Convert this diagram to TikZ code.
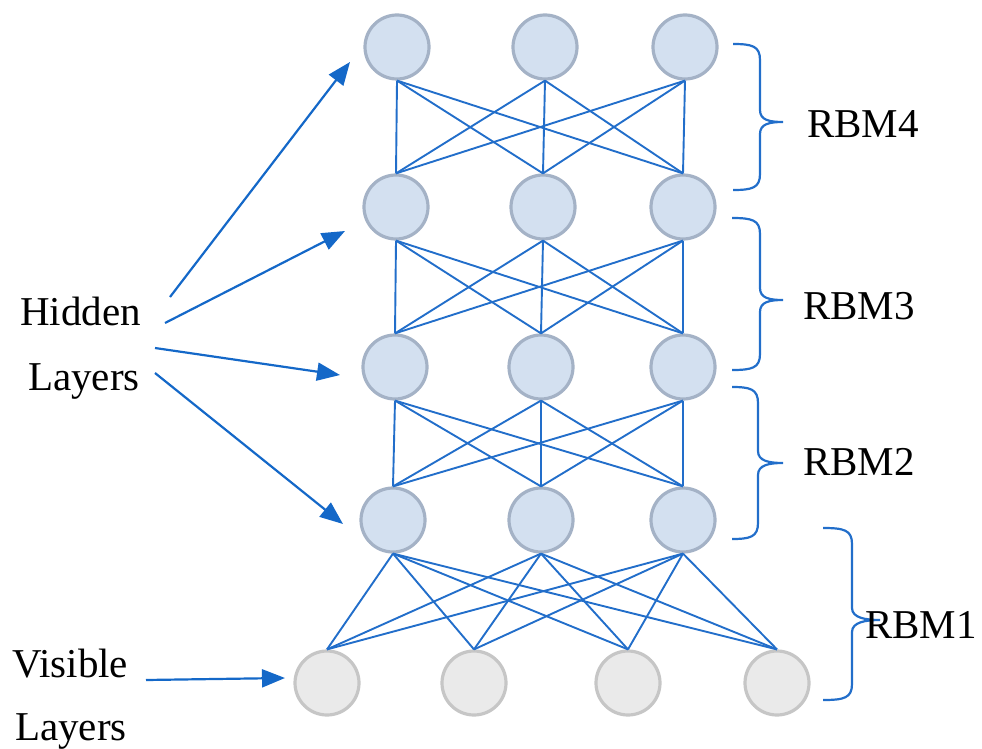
\documentclass[tikz,border=0pt]{standalone}
\usepackage{fontspec}
\setmainfont{Liberation Serif}
\usetikzlibrary{arrows.meta}

\definecolor{linkblue}{RGB}{34,110,202}
\definecolor{arrowblue}{RGB}{20,104,200}
\definecolor{hidfill}{RGB}{211,224,240}
\definecolor{hidedge}{RGB}{164,178,198}
\definecolor{visfill}{RGB}{234,234,234}
\definecolor{visedge}{RGB}{198,198,198}

% curly brace: x end, x spine, x tip, y top, y tip, y bottom
\newcommand{\rbmbrace}[6]{%
  \draw[bracestyle] (#1,#4) .. controls (#2-8,#4) and (#2,#4+2) .. (#2,#4+16)
    -- (#2,#5-12) .. controls (#2,#5-2) and (#3-14,#5) .. (#3,#5)
    .. controls (#3-14,#5) and (#2,#5+2) .. (#2,#5+12)
    -- (#2,#6-16) .. controls (#2,#6-2) and (#2-8,#6) .. (#1,#6);}

\begin{document}
\begin{tikzpicture}[x=1pt,y=-1pt,
  hidden/.style={circle,minimum size=64pt,inner sep=0pt,fill=hidfill,draw=hidedge,line width=3.2pt},
  visible/.style={circle,minimum size=64pt,inner sep=0pt,fill=visfill,draw=visedge,line width=3.2pt},
  link/.style={draw=linkblue,line width=1.9pt},
  pointer/.style={draw=arrowblue,line width=2.2pt,-{Triangle[length=23pt,width=18pt]}},
  bracestyle/.style={draw=linkblue,line width=2.2pt},
  label/.style={font=\fontsize{41}{48}\selectfont,inner sep=0pt}]
\useasboundingbox (0,0) rectangle (982,749);

% hidden layers, top to bottom
\node[hidden] (h11) at (397,47) {};
\node[hidden] (h12) at (545,47) {};
\node[hidden] (h13) at (685,47) {};
\node[hidden] (h21) at (396,207) {};
\node[hidden] (h22) at (543,207) {};
\node[hidden] (h23) at (683,207) {};
\node[hidden] (h31) at (395,367) {};
\node[hidden] (h32) at (541,367) {};
\node[hidden] (h33) at (683,367) {};
\node[hidden] (h41) at (393,520) {};
\node[hidden] (h42) at (541,520) {};
\node[hidden] (h43) at (683,520) {};
% visible layer
\node[visible] (v1) at (327,683) {};
\node[visible] (v2) at (474,683) {};
\node[visible] (v3) at (628,683) {};
\node[visible] (v4) at (777,683) {};

% full connections between neighbouring layers
\foreach \u/\l in {1/2,2/3,3/4}
  \foreach \i in {1,2,3}
    \foreach \j in {1,2,3}
      \path[link] (h\u\i.south) -- (h\l\j.north);
\foreach \i in {1,2,3}
  \foreach \j in {1,2,3,4}
    \path[link] (h4\i.south) -- (v\j.north);

% braces and labels
\rbmbrace{733}{760}{783}{44}{122}{190}
\rbmbrace{732}{760}{783}{218}{300}{370}
\rbmbrace{732}{758}{783}{387}{463}{539}
\rbmbrace{823}{852}{880}{528}{620}{700}
\node[label,anchor=base west] (r4) at (807,138) {RBM4};
\node[label,anchor=base west] (r3) at (803,319) {RBM3};
\node[label,anchor=base west] (r2) at (803,475) {RBM2};
\node[label,anchor=base west] (r1) at (865,638) {RBM1};

% left-hand labels
\node[label,anchor=base west] (hid) at (20,325) {Hidden};
\node[label,anchor=base west] (hlay) at (28,390) {Layers};
\node[label,anchor=base west] (vis) at (12,677) {Visible};
\node[label,anchor=base west] (vlay) at (15,740) {Layers};

% pointer arrows
\coordinate (s1) at (170,297); \coordinate (t1) at (350,62);
\coordinate (s2) at (165,323); \coordinate (t2) at (345,231);
\coordinate (s3) at (155,348); \coordinate (t3) at (340,375);
\coordinate (s4) at (155,373); \coordinate (t4) at (343,524);
\coordinate (s5) at (146,680); \coordinate (t5) at (285,678);
\foreach \k in {1,...,5}
  \path[pointer] (s\k) -- (t\k);
\end{tikzpicture}
\end{document}
